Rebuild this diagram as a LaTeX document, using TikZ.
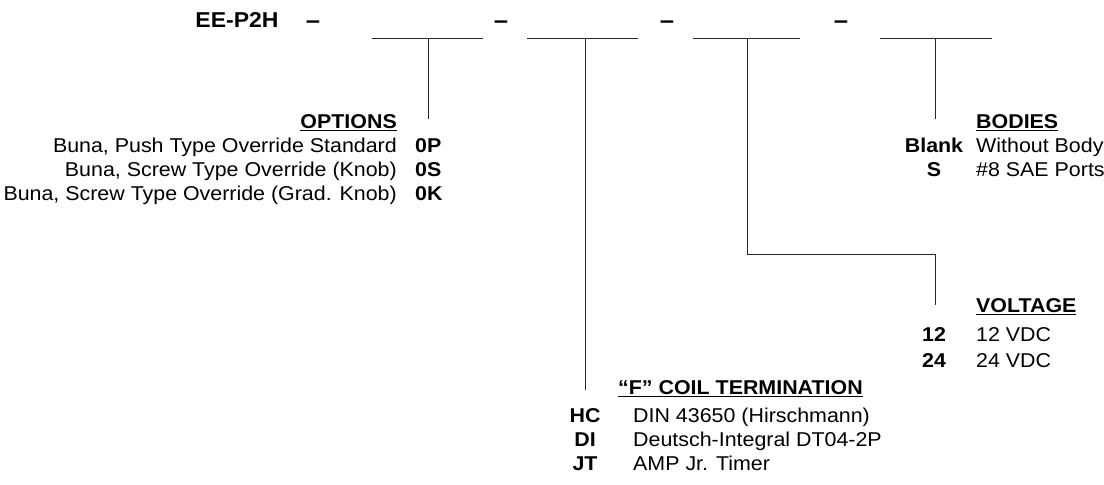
\documentclass[tikz,border=0pt]{standalone}
\usepackage{fontspec}
\setmainfont{Liberation Sans}[FakeStretch=1.07]
\usetikzlibrary{positioning}

% underline for the list headings
\newcommand{\undl}[1]{\setbox0\hbox{#1}\rlap{\rule[-3.2pt]{\wd0}{1.6pt}}\box0}

\begin{document}
\begin{tikzpicture}[
  x=1pt, y=-1pt,
  every node/.style={inner sep=0pt, font=\fontsize{20}{24}\selectfont},
  head/.style={font=\fontsize{20}{24}\selectfont\bfseries},
  code/.style={font=\fontsize{20}{24}\selectfont\bfseries, anchor=base},
  dashsep/.style={font=\fontsize{24}{28}\selectfont\bfseries, anchor=base},
  desc/.style={anchor=base west},
  blank/.style={line width=0.9pt, draw=black!85},
  lead/.style={line width=0.9pt, draw=black!85},
]
  \useasboundingbox (0,0) rectangle (1104,485);

  % Part number and the four blanks
  \node[head, font=\fontsize{21.5}{25}\selectfont\bfseries, anchor=base] (part) at (237,27) {EE-P2H};
  \node[dashsep] (dash1) at (313,28) {–};
  \node[dashsep] (dash2) at (501,28) {–};
  \node[dashsep] (dash3) at (667,28) {–};
  \node[dashsep] (dash4) at (841,28) {–};

  \coordinate (b1w) at (372,38);  \coordinate (b1e) at (483,38);
  \coordinate (b2w) at (527,38);  \coordinate (b2e) at (638,38);
  \coordinate (b3w) at (693,38);  \coordinate (b3e) at (800,38);
  \coordinate (b4w) at (880,38);  \coordinate (b4e) at (992,38);
  \coordinate (b1) at (428,38);   \coordinate (b2) at (585,38);
  \coordinate (b3) at (747,38);   \coordinate (b4) at (935,38);
  \draw[blank] (b1w) -- (b1e);
  \draw[blank] (b2w) -- (b2e);
  \draw[blank] (b3w) -- (b3e);
  \draw[blank] (b4w) -- (b4e);

  % Options
  \node[head, anchor=base east] (optHead) at (397,128) {\undl{OPTIONS}};
  \node[anchor=base east] (opt0P) at (397,152) {Buna, Push Type Override Standard};
  \node[anchor=base east] (opt0S) at (397,176) {Buna, Screw Type Override (Knob)};
  \node[anchor=base east] (opt0K) at (397,200) {Buna, Screw Type Override (Grad. Knob)};
  \node[code, anchor=base west, base right=18pt of opt0P] (code0P) {0P};
  \node[code, anchor=base west, base right=18pt of opt0S] (code0S) {0S};
  \node[code, anchor=base west, base right=18pt of opt0K] (code0K) {0K};

  % Bodies
  \node[head, anchor=base west] (bodyHead) at (976,128) {\undl{BODIES}};
  \node[code] (codeBlank) at (934,152) {Blank};
  \node[desc] (bodyBlank) at (976,152) {Without Body};
  \node[code] (codeS) at (934,176) {S};
  \node[desc] (bodyS) at (976,176) {\#8 SAE Ports};

  % Voltage
  \node[head, anchor=base west] (voltHead) at (976,312) {\undl{VOLTAGE}};
  \node[code] (code12) at (934,341) {12};
  \node[desc] (volt12) at (976,341) {12 VDC};
  \node[code] (code24) at (934,367) {24};
  \node[desc] (volt24) at (976,367) {24 VDC};

  % Coil termination
  \node[head, anchor=base west] (coilHead) at (618,394) {\undl{``F'' COIL TERMINATION}};
  \node[code] (codeHC) at (585,422) {HC};
  \node[desc] (coilHC) at (633,422) {DIN 43650 (Hirschmann)};
  \node[code] (codeDI) at (585,446) {DI};
  \node[desc] (coilDI) at (633,446) {Deutsch-Integral DT04-2P};
  \node[code] (codeJT) at (585,470) {JT};
  \node[desc] (coilJT) at (633,470) {AMP Jr. Timer};

  % Leads from the blanks down to the lists
  \coordinate (optEnd) at (428,119);
  \coordinate (coilEnd) at (585,390);
  \coordinate (voltEnd) at (935,305);
  \coordinate (bodyEnd) at (935,119);
  \draw[lead] (b1) -- (optEnd);
  \draw[lead] (b2) -- (coilEnd);
  \draw[lead] (b3) |- (935,254) -- (voltEnd);
  \draw[lead] (b4) -- (bodyEnd);
\end{tikzpicture}
\end{document}
